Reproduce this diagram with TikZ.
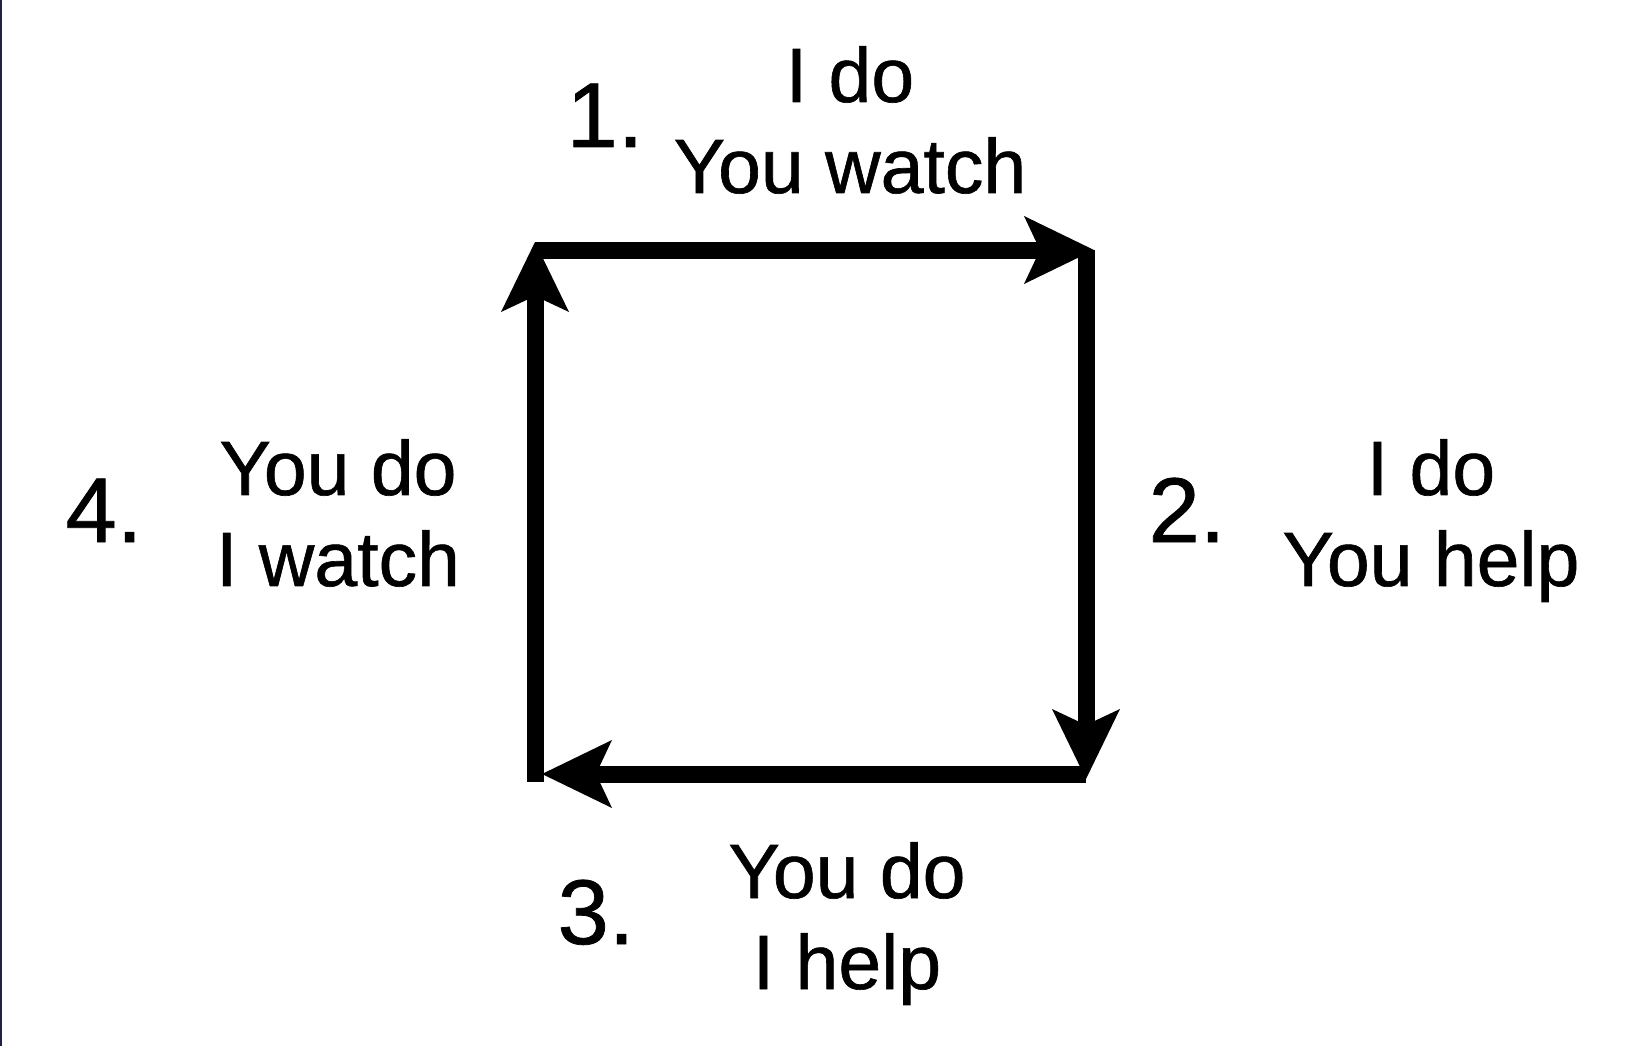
\documentclass[tikz,border=0pt]{standalone}
\usepackage{fontspec}
\setmainfont[FakeBold=0.8]{Liberation Sans}
\usetikzlibrary{arrows.meta}
\tikzset{
  flow/.style={line width=17pt, draw=black,
    -{Stealth[length=70pt,width=68pt,inset=16pt,line width=0pt]}},
  lbl/.style={font=\fontsize{77}{91}\selectfont, align=center, inner sep=0pt, anchor=north},
  num/.style={font=\fontsize{92}{100}\selectfont, inner sep=0pt, anchor=base},
}
\begin{document}
\begin{tikzpicture}[x=1pt,y=-1pt]
\useasboundingbox (0,0) rectangle (1642,1046);
\fill[fill=white] (0,0) rectangle (1642,1046);
\fill[fill={rgb,255:red,30;green,33;blue,66}] (0,0) rectangle (1.6,1046);
% corner coordinates
\coordinate (tlA) at (535,250);
\coordinate (trA) at (1094,250);
\coordinate (trB) at (1086,250);
\coordinate (brB) at (1086,779);
\coordinate (brC) at (1086,774);
\coordinate (blC) at (542,774);
\coordinate (blD) at (535,782);
\coordinate (tlD) at (535,242);
% connectors
\draw[flow] (tlA) -- (trA);
\draw[flow] (trB) -- (brB);
\draw[flow] (brC) -- (blC);
\draw[flow] (blD) -- (tlD);
% labels
\node[num] (n1) at (605,147) {1.};
\node[lbl] (t1) at (850,46) {I do\\You watch};
\node[num] (n2) at (1187,542) {2.};
\node[lbl] (t2) at (1431,439) {I do\\You help};
\node[num] (n3) at (596,944) {3.};
\node[lbl] (t3) at (847,842) {You do\\I help};
\node[num] (n4) at (104,542) {4.};
\node[lbl] (t4) at (338,439) {You do\\I watch};
\end{tikzpicture}
\end{document}
